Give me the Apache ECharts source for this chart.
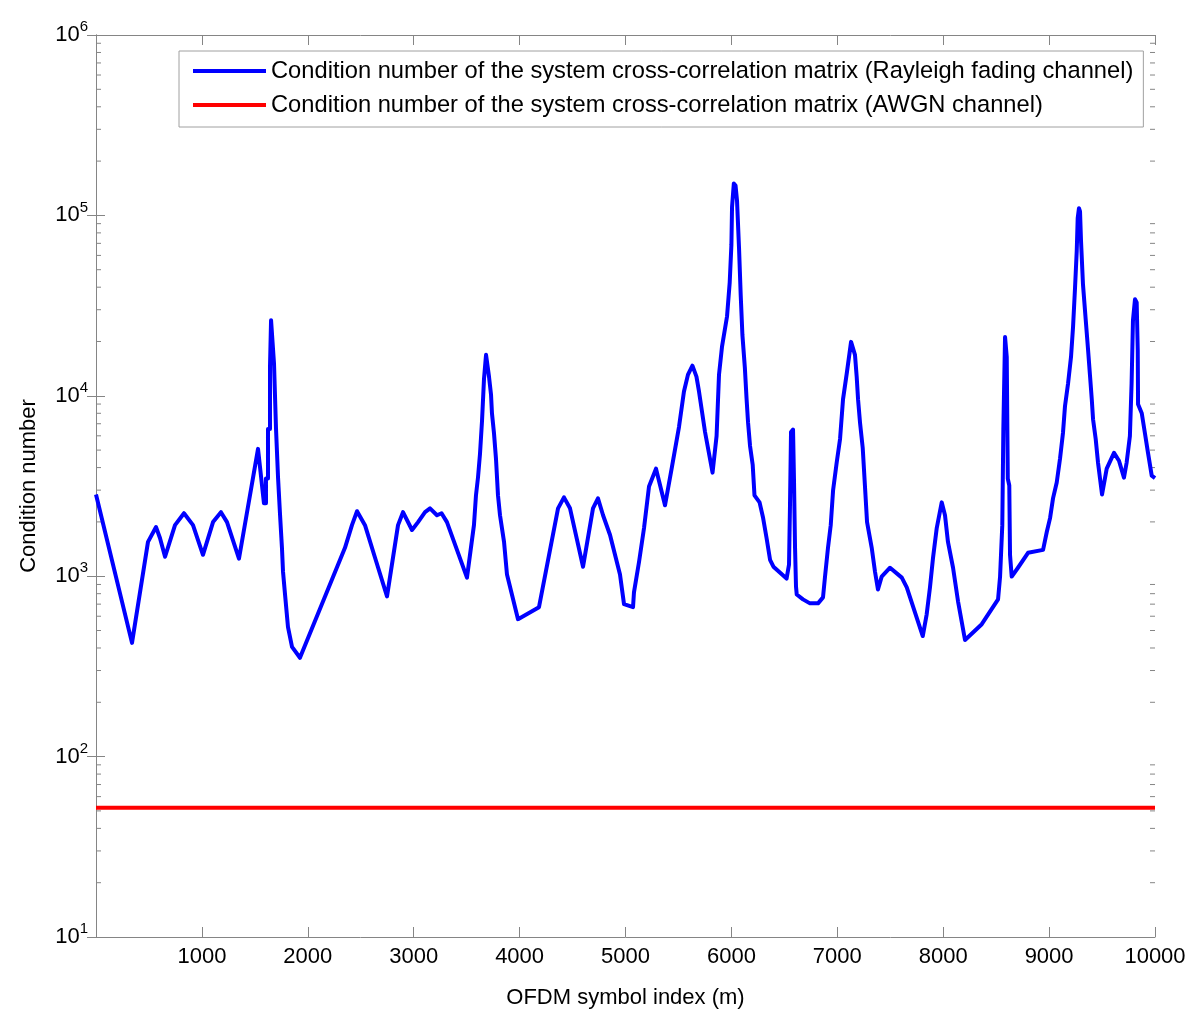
<!DOCTYPE html>
<html>
<head>
<meta charset="utf-8">
<script src="https://cdn.jsdelivr.net/npm/echarts@6/dist/echarts.min.js"></script>
<style>
html,body{margin:0;padding:0;background:#fff;}
#c{width:1200px;height:1014px;}
</style>
</head>
<body>
<div id="c"></div>
<script>
// Rayleigh fading channel condition number (x = OFDM symbol index, y = condition number)
var rayX = [0,340,491,567,604,652,746,831,916,1010,1105,1180,1237,1350,1530,1586,1605,1605,1624,1624,1643,1643,1653,1653,1671,1681,1700,1719,1737,1756,1766,1785,1813,1851,1926,2351,2417,2465,2540,2635,2748,2852,2899,2984,3041,3107,3154,3220,3263,3314,3503,3569,3588,3607,3626,3645,3664,3683,3692,3711,3730,3739,3758,3777,3796,3815,3853,3881,3985,4183,4363,4419,4476,4599,4693,4740,4788,4854,4948,4986,5071,5080,5128,5175,5222,5288,5373,5439,5505,5552,5590,5632,5670,5694,5751,5822,5860,5883,5911,5959,5984,6000,6006,6023,6039,6053,6072,6088,6104,6127,6143,6157,6176,6201,6218,6266,6298,6332,6365,6397,6521,6544,6553,6563,6582,6591,6601,6610,6617,6676,6742,6818,6865,6884,6912,6938,6960,6994,7026,7054,7089,7130,7167,7183,7196,7215,7240,7262,7281,7325,7356,7384,7419,7498,7609,7656,7807,7844,7875,7904,7939,7986,8017,8045,8093,8140,8206,8364,8518,8537,8558,8568,8584,8600,8610,8624,8631,8647,8706,8801,8943,8978,9009,9037,9072,9103,9131,9150,9179,9207,9226,9245,9261,9270,9282,9292,9301,9320,9346,9368,9387,9403,9415,9440,9462,9500,9544,9613,9660,9707,9732,9763,9779,9792,9811,9827,9837,9840,9875,9906,9934,9969,10000];
var rayY = [2840,427,1549,1872,1629,1282,1919,2234,1919,1314,1995,2264,1995,1250,5080,2535,2535,3475,3475,6540,6540,14500,14500,26250,26250,15060,6540,3520,2234,1436,1059,792,522,406,353,1436,1919,2291,1919,1265,773,1919,2264,1803,1995,2264,2378,2178,2234,1995,982,1919,2805,3520,4767,7230,12450,16870,16870,12770,10180,8000,6220,4477,2805,2178,1549,1021,578,673,2378,2735,2378,1129,2378,2700,2178,1692,1021,700,673,813,1202,1849,3141,3945,2472,4045,6710,10570,13100,14690,12770,10570,6300,3750,5985,13100,18660,27620,42460,68600,111000,150300,146500,121100,66070,36040,21730,14320,9680,7145,5275,4150,2805,2566,2124,1629,1233,1129,970,1158,2410,6300,6500,3435,1436,877,792,744,707,707,763,995,1436,1919,2985,4256,5765,9550,13270,19900,16870,12770,9550,7060,5145,3100,1995,1436,1059,844,995,1114,982,866,466,615,866,1265,1849,2566,2178,1549,1114,726,443,542,744,995,1919,6540,21180,16450,3475,3184,1314,995,1114,1348,1400,1758,2098,2700,3305,4477,6220,8750,11700,16450,24040,39830,63590,96500,109600,105400,73100,41400,26250,17980,12770,9550,7420,5765,4256,2840,3945,4830,4365,3520,4256,5985,11700,26250,34260,32960,17980,8970,8000,6140,4830,3610,3500];
// AWGN channel condition number (constant)
var awgnX = [0, 10000];
var awgnY = [52, 52];
// axis ticks
var xTicks = [0,1000,2000,3000,4000,5000,6000,7000,8000,9000,10000];
var yDecades = [10,100,1000,10000,100000,1000000];

var names = [
  'Condition number of the system cross-correlation matrix (Rayleigh fading channel)',
  'Condition number of the system cross-correlation matrix (AWGN channel)'
];

var FONT = 'Liberation Sans, Arial, sans-serif';
var AX = '#858585';
var chart = echarts.init(document.getElementById('c'), null, {renderer:'canvas'});

function sup(v){
  var e = Math.round(Math.log10(v));
  return '{b|10}{s|' + e + '}';
}

var rayData = rayX.map(function(x,i){return [x, rayY[i]];});
var awgnData = awgnX.map(function(x,i){return [x, awgnY[i]];});

var common = {
  axisLine:{show:true, lineStyle:{color:AX, width:1}},
  splitLine:{show:false}
};

chart.setOption({
  animation:false,
  backgroundColor:'#fff',
  textStyle:{fontFamily:FONT},
  grid:{left:96, right:45, top:35, bottom:68, containLabel:false},
  legend:{
    show:true, orient:'vertical', left:179, top:51,
    padding:[8,10,10,14], itemGap:10,
    itemWidth:73, itemHeight:4,
    borderColor:'#a0a0a0', borderWidth:1, backgroundColor:'#fff',
    textStyle:{fontFamily:FONT, fontSize:23.7, lineHeight:24, color:'#000'},
    data:[{name:names[0], icon:'rect'},{name:names[1], icon:'rect'}]
  },
  xAxis:[
    Object.assign({}, common, {
      type:'value', min:0, max:10000, interval:1000, position:'bottom',
      axisTick:{show:true, inside:true, length:10, lineStyle:{color:AX}},
      axisLabel:{show:true, fontFamily:FONT, fontSize:22, color:'#000', margin:9,
        formatter:function(v){return v===0?'':String(v);}},
      name:'OFDM symbol index (m)', nameLocation:'middle', nameGap:50,
      nameTextStyle:{fontFamily:FONT, fontSize:22, color:'#000'}
    }),
    Object.assign({}, common, {
      type:'value', min:0, max:10000, interval:1000, position:'top',
      axisTick:{show:true, inside:true, length:10, lineStyle:{color:AX}},
      axisLabel:{show:false}
    })
  ],
  yAxis:[
    Object.assign({}, common, {
      type:'log', logBase:10, min:10, max:1000000, position:'left',
      axisTick:{show:true, inside:true, length:9, lineStyle:{color:AX}},
      axisLabel:{show:true, margin:8, formatter:sup,
        rich:{
          b:{fontFamily:FONT, fontSize:22, color:'#000'},
          s:{fontFamily:FONT, fontSize:15, color:'#000', padding:[0,0,16,0]}
        }},
      name:'Condition number', nameLocation:'middle', nameGap:56,
      nameTextStyle:{fontFamily:FONT, fontSize:22, color:'#000'}
    }),
    Object.assign({}, common, {
      type:'log', logBase:10, min:10, max:1000000, position:'right',
      axisTick:{show:true, inside:true, length:9, lineStyle:{color:AX}},
      axisLabel:{show:false}
    })
  ],
  series:[
    {name:names[0], type:'line', xAxisIndex:0, yAxisIndex:0, data:rayData,
     showSymbol:false, symbol:'none', color:'#0000ff',
     lineStyle:{color:'#0000ff', width:4, join:'round'}, z:3},
    {name:names[1], type:'line', xAxisIndex:0, yAxisIndex:0, data:awgnData,
     showSymbol:false, symbol:'none', color:'#ff0000',
     lineStyle:{color:'#ff0000', width:4}, z:2}
  ]
});

// minor log ticks (2..9 x 10^k) placed through the axis scale
var gfx = [];
var xl = chart.convertToPixel({xAxisIndex:0}, 0);
var xr = chart.convertToPixel({xAxisIndex:0}, 10000);
for (var d=0; d<yDecades.length-1; d++){
  for (var k=2; k<=9; k++){
    var py = chart.convertToPixel({yAxisIndex:0}, yDecades[d]*k);
    gfx.push({type:'line', shape:{x1:xl, y1:py, x2:xl+5, y2:py}, style:{stroke:AX, lineWidth:1}, silent:true});
    gfx.push({type:'line', shape:{x1:xr-5, y1:py, x2:xr, y2:py}, style:{stroke:AX, lineWidth:1}, silent:true});
  }
}
chart.setOption({graphic:gfx});
</script>
</body>
</html>
